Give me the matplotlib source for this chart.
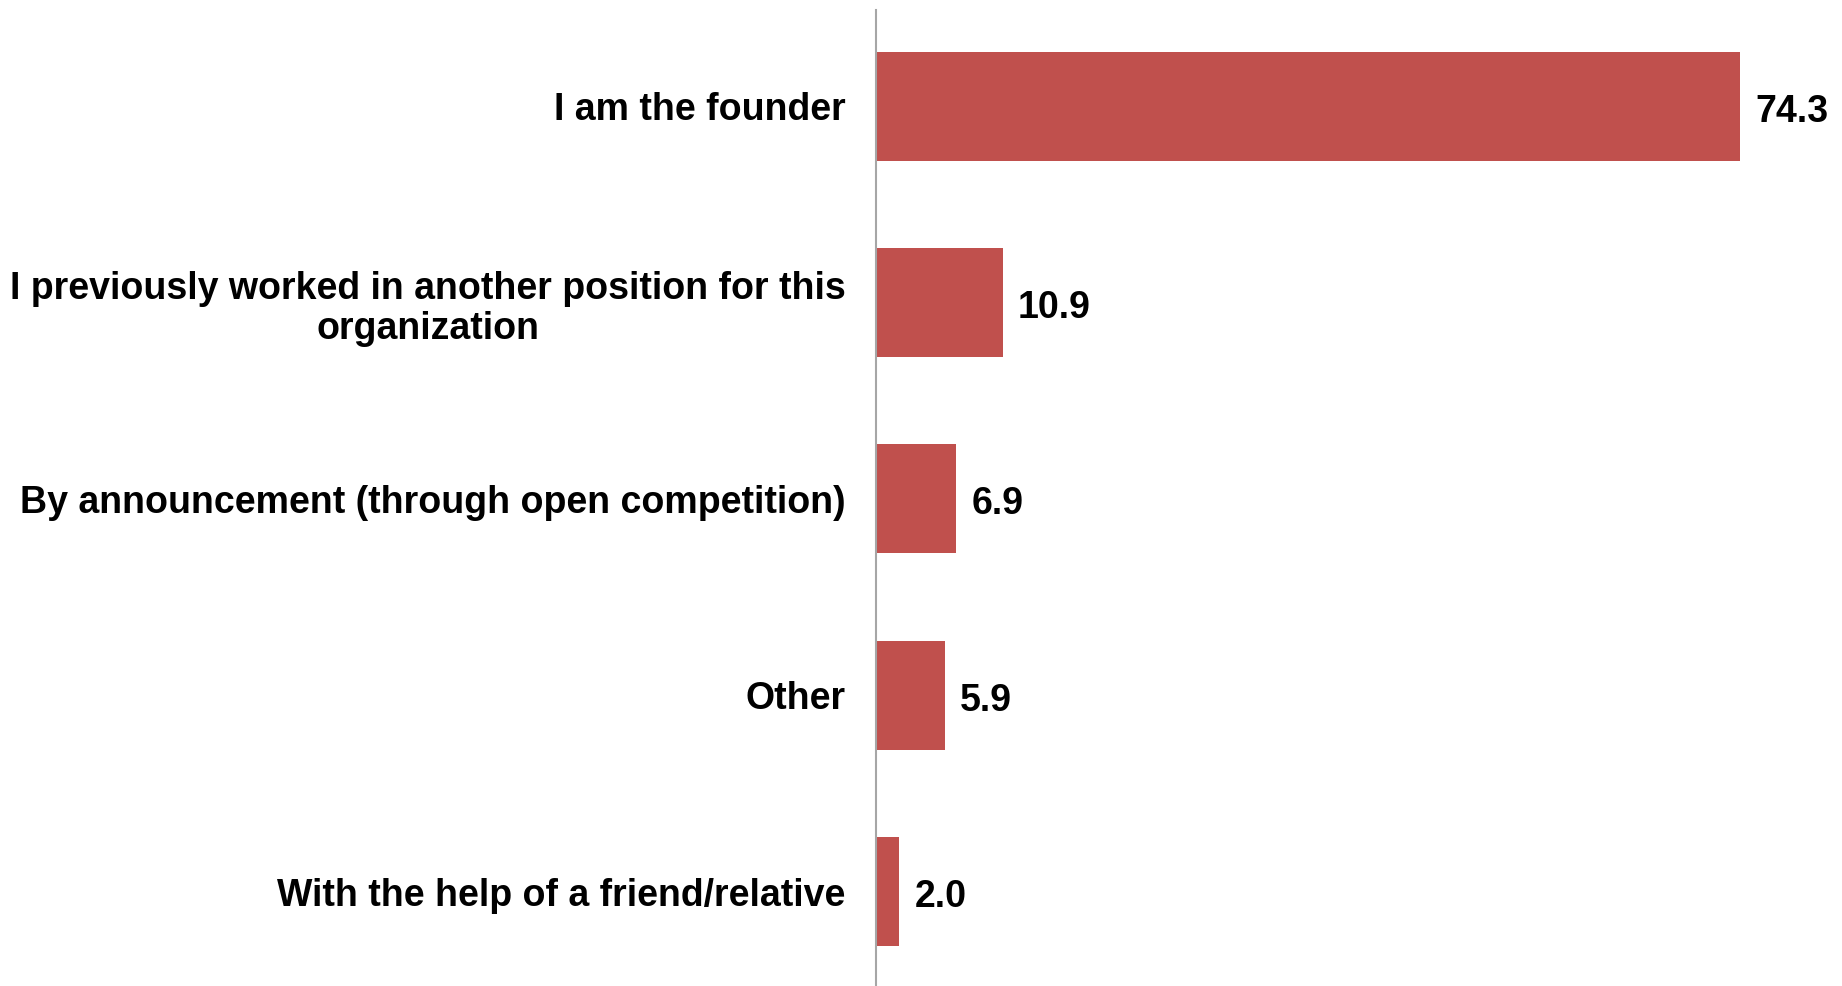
import matplotlib.pyplot as plt

# how the respondent got the position (%)
categories = [
    "I am the founder",
    "I previously worked in another position for this\norganization",
    "By announcement (through open competition)",
    "Other",
    "With the help of a friend/relative",
]
values = [74.3, 10.9, 6.9, 5.9, 2.0]

plt.rcParams["font.family"] = ["Liberation Sans", "DejaVu Sans"]
plt.rcParams["font.weight"] = "bold"

fig = plt.figure(figsize=(18.42, 9.86), dpi=100)
ax = fig.add_axes([0.4756, 0.0, 0.5244, 0.9899])

pos = list(range(len(values)))
bars = ax.barh(pos, values, height=0.555, color="#C0504D")

for b, v in zip(bars, values):
    ax.annotate("{:.1f}".format(v), (b.get_width(), b.get_y() + b.get_height() / 2),
                xytext=(11, -1), textcoords="offset points",
                va="center_baseline", ha="left", fontsize=27, fontweight="bold")

ax.set_yticks(pos)
ax.set_yticklabels(categories, fontsize=27, fontweight="bold")
for t in ax.get_yticklabels():
    t.set_multialignment("center")
    t.set_linespacing(1.15)
ax.tick_params(axis="y", length=0, pad=22)
ax.tick_params(axis="x", bottom=False, labelbottom=False)

ax.set_xlim(0, 83.1)
ax.set_ylim(4.48, -0.49)

for s in ["top", "right", "bottom"]:
    ax.spines[s].set_visible(False)
ax.spines["left"].set_color("#A6A6A6")
ax.spines["left"].set_linewidth(1.5)

fig.savefig("out.png", dpi=100)
